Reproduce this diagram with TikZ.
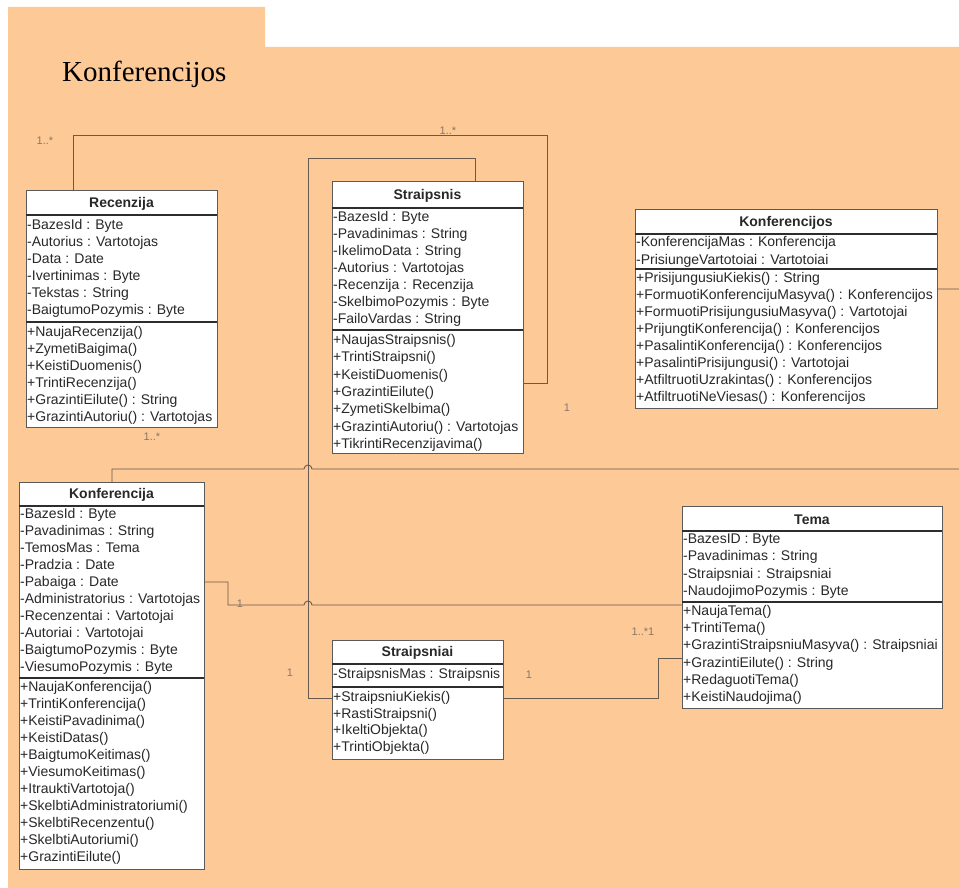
\documentclass[tikz,border=0pt]{standalone}
\usepackage{fontspec}
\setmainfont{Liberation Sans}
\newfontfamily\titleserif{Liberation Serif}

\definecolor{pkgfill}{RGB}{253,201,150}
\definecolor{boxline}{RGB}{90,90,90}
\definecolor{headline}{RGB}{45,45,45}
\definecolor{ink}{RGB}{40,40,40}
\definecolor{wire}{RGB}{105,90,78}
\definecolor{multgrey}{RGB}{135,120,105}

\tikzset{
  classframe/.style={draw=boxline, fill=white, line width=1pt, inner sep=0pt, outer sep=0pt},
  classtitle/.style={font=\fontsize{14}{16}\selectfont\bfseries, text=ink, inner sep=0pt},
  rowtext/.style={anchor=west, font=\fontsize{14}{16}\selectfont, text=ink,
    text height=10pt, text depth=3pt, inner sep=0pt},
  headrule/.style={draw=headline, line width=1.8pt},
  assoc/.style={draw=wire, line width=0.9pt},
  mult/.style={font=\fontsize{11}{13}\selectfont, text=multgrey, inner sep=0pt},
}

% #1 name, #2 left, #3 top, #4 right, #5 header bottom, #6 separator, #7 bottom, #8 title
\newcommand\umlclass[8]{%
  \node[classframe, minimum width={(#4-#2)*1pt}, minimum height={(#7-#3)*1pt}]
    (#1) at ({(#2+#4)/2},{(#3+#7)/2}) {};
  \node[classtitle] (#1-title) at ({(#2+#4)/2},{(#3+#5)/2+1}) {#8};
  \draw[headrule] (#2,#5) -- (#4,#5);
  \draw[headrule] (#2,#6) -- (#4,#6);
}
% #1 name prefix, #2 left, #3 first row y, #4 row step, #5 rows
\newcommand\umlrows[5]{%
  \foreach \t [count=\i] in {#5} {
    \node[rowtext] (#1-\i) at ({#2+1},{#3+(\i-1)*#4}) {\t};
  }
}

\begin{document}
\begin{tikzpicture}[x=1pt,y=-1pt]
\useasboundingbox (0,0) rectangle (959,888);
\fill[white] (0,0) rectangle (959,888);

% package frame with its tab
\fill[pkgfill] (8,7) -- (265,7) -- (265,47) -- (959,47) -- (959,888) -- (8,888) -- cycle;
\node[font=\titleserif\fontsize{29}{32}\selectfont, text=black, anchor=base west, inner sep=0pt]
  (pkgname) at (62,82) {Konferencijos};

% class frames
\umlclass{rec}{26}{191}{217}{215}{322}{427}{Recenzija}
\umlclass{str}{332}{182}{523}{208}{330}{453}{Straipsnis}
\umlclass{kfs}{635}{209}{937}{234}{269}{408}{Konferencijos}
\umlclass{kfa}{19}{482}{204}{506}{678}{869}{Konferencija}
\umlclass{sni}{332}{640}{503}{664}{687}{759}{Straipsniai}
\umlclass{tema}{682}{506}{942}{531}{602}{708}{Tema}

% associations
\draw[assoc] ([xshift=47pt]rec.north west) |- (547,135) |- (str.east |- 0,383);
\draw[assoc] ([xshift=143pt]str.north west) |- (308,158) -- (308,698) -- (sni.west |- 0,698);
\draw[assoc] ([xshift=93pt]kfa.north west) |- (304,469)
  arc[start angle=180, end angle=0, radius=4pt] -- (975,469) |- (kfs.east |- 0,289);
\draw[assoc] (kfa.east |- 0,582) -| (228,605) -- (304,605)
  arc[start angle=180, end angle=0, radius=4pt] -- (tema.west |- 0,605);
\draw[assoc] (sni.east |- 0,698) -| (658,658) -- (tema.west |- 0,658);

% multiplicities
\node[mult] (m1) at (45,141) {1..*};
\node[mult] (m2) at (448,131) {1..*};
\node[mult] (m3) at (152,437) {1..*};
\node[mult] (m4) at (567,408) {1};
\node[mult] (m5) at (240,604) {1};
\node[mult] (m6) at (290,673) {1};
\node[mult] (m7) at (529,675) {1};
\node[mult] (m8) at (643,632) {1..*1};

% class contents
\umlrows{rec-a}{26}{226}{16.9}{-BazesId : Byte,-Autorius : Vartotojas,-Data : Date,-Ivertinimas : Byte,-Tekstas : String,-BaigtumoPozymis : Byte}
\umlrows{rec-o}{26}{333}{17}{+NaujaRecenzija(),+ZymetiBaigima(),+KeistiDuomenis(),+TrintiRecenzija(),+GrazintiEilute() : String,+GrazintiAutoriu() : Vartotojas}

\umlrows{str-a}{332}{218}{17}{-BazesId : Byte,-Pavadinimas : String,-IkelimoData : String,-Autorius : Vartotojas,-Recenzija : Recenzija,-SkelbimoPozymis : Byte,-FailoVardas : String}
\umlrows{str-o}{332}{341}{17.3}{+NaujasStraipsnis(),+TrintiStraipsni(),+KeistiDuomenis(),+GrazintiEilute(),+ZymetiSkelbima(),+GrazintiAutoriu() : Vartotojas,+TikrintiRecenzijavima()}

\umlrows{kfs-a}{635}{243}{18}{-KonferencijaMas : Konferencija,-PrisiungeVartotoiai : Vartotoiai}
\umlrows{kfs-o}{635}{279}{17}{+PrisijungusiuKiekis() : String,+FormuotiKonferencijuMasyva() : Konferencijos,+FormuotiPrisijungusiuMasyva() : Vartotojai,+PrijungtiKonferencija() : Konferencijos,+PasalintiKonferencija() : Konferencijos,+PasalintiPrisijungusi() : Vartotojai,+AtfiltruotiUzrakintas() : Konferencijos,+AtfiltruotiNeViesas() : Konferencijos}

\umlrows{kfa-a}{19}{515}{17}{-BazesId : Byte,-Pavadinimas : String,-TemosMas : Tema,-Pradzia : Date,-Pabaiga : Date,-Administratorius : Vartotojas,-Recenzentai : Vartotojai,-Autoriai : Vartotojai,-BaigtumoPozymis : Byte,-ViesumoPozymis : Byte}
\umlrows{kfa-o}{19}{688}{17}{+NaujaKonferencija(),+TrintiKonferencija(),+KeistiPavadinima(),+KeistiDatas(),+BaigtumoKeitimas(),+ViesumoKeitimas(),+ItrauktiVartotoja(),+SkelbtiAdministratoriumi(),+SkelbtiRecenzentu(),+SkelbtiAutoriumi(),+GrazintiEilute()}

\umlrows{sni-a}{332}{675}{17}{-StraipsnisMas : Straipsnis}
\umlrows{sni-o}{332}{698}{16.7}{+StraipsniuKiekis(),+RastiStraipsni(),+IkeltiObjekta(),+TrintiObjekta()}

\umlrows{tema-a}{682}{540}{17.3}{-BazesID : Byte,-Pavadinimas : String,-Straipsniai : Straipsniai,-NaudojimoPozymis : Byte}
\umlrows{tema-o}{682}{612}{17.2}{+NaujaTema(),+TrintiTema(),+GrazintiStraipsniuMasyva() : Straipsniai,+GrazintiEilute() : String,+RedaguotiTema(),+KeistiNaudojima()}
\end{tikzpicture}
\end{document}
